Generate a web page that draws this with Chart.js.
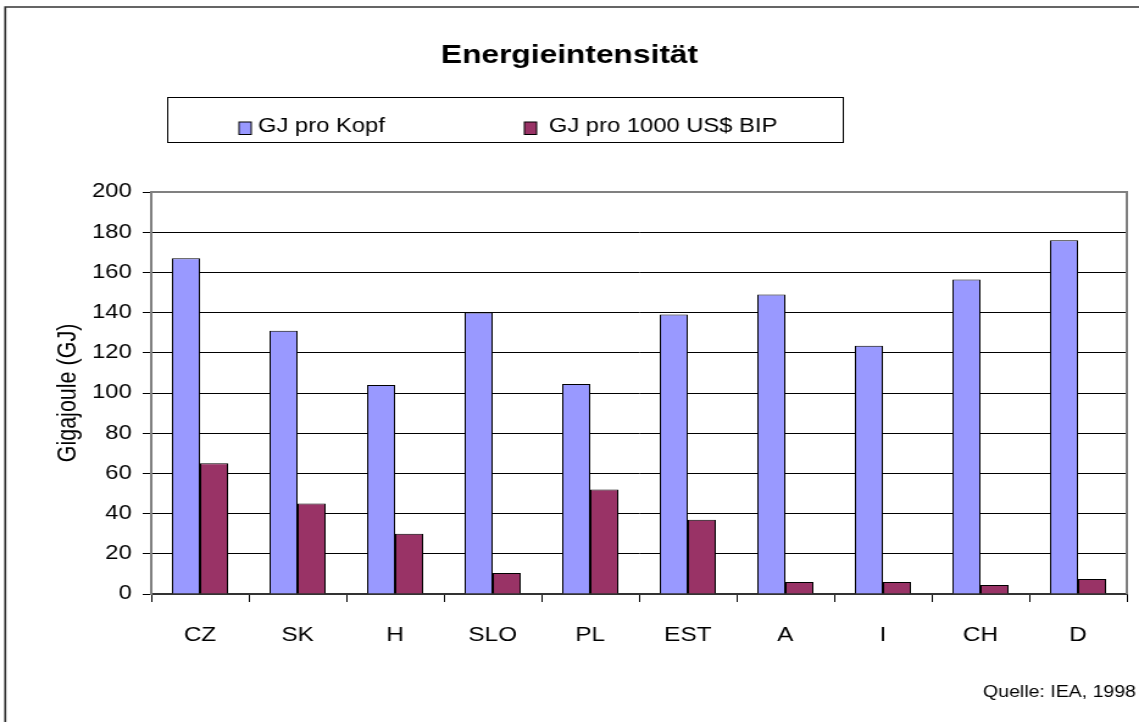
<!DOCTYPE html>
<html>
<head>
<meta charset="utf-8">
<script src="https://cdn.jsdelivr.net/npm/chart.js@4"></script>
<style>
  html, body { margin: 0; padding: 0; background: #fff; overflow: hidden; }
  /* the original picture is stretched sideways, so the chart is drawn narrow and widened */
  #wrap { width: 934px; height: 722px; transform: scaleX(1.2195); transform-origin: 0 0; }
</style>
</head>
<body>
<div id="wrap"><canvas id="chart" width="934" height="722"></canvas></div>
<script>
const countries = ['CZ', 'SK', 'H', 'SLO', 'PL', 'EST', 'A', 'I', 'CH', 'D'];
const perHead = [167, 131, 104, 140, 104.5, 139, 149, 123.5, 156.5, 176];
const perGdp = [65, 45, 30, 10.5, 52, 37, 6, 6, 4.5, 7.5];
const seriesNames = ['GJ pro Kopf', 'GJ pro 1000 US$ BIP'];
const yTicks = [0, 20, 40, 60, 80, 100, 120, 140, 160, 180, 200];

const FONT = '"Liberation Sans", Arial, sans-serif';

const extras = {
    id: 'extras',
    afterDraw(chart) {
        const ctx = chart.ctx
        const a = chart.chartArea
        ctx.save()

        // grey frame on top and right of the plot
        ctx.strokeStyle = '#808080'
        ctx.lineWidth = 2
        ctx.beginPath()
        ctx.moveTo(a.left, a.top)
        ctx.lineTo(a.right, a.top)
        ctx.lineTo(a.right, a.bottom)
        ctx.stroke()

        // outer frame
        ctx.strokeStyle = '#333'
        ctx.lineWidth = 1.7
        ctx.beginPath()
        ctx.moveTo(4.3, 722)
        ctx.lineTo(4.3, 7)
        ctx.lineTo(934, 7)
        ctx.stroke()

        // title
        ctx.fillStyle = '#000'
        ctx.font = 'bold 26px ' + FONT
        ctx.textAlign = 'center'
        ctx.textBaseline = 'alphabetic'
        ctx.fillText('Energieintensität', 467, 63)

        // legend box
        ctx.strokeStyle = '#000'
        ctx.lineWidth = 1
        ctx.strokeRect(137.5, 97.5, 554, 45)
        const items = [[196, 211.5], [430, 450]]
        ctx.font = '19.5px ' + FONT
        ctx.textAlign = 'left'
        chart.data.datasets.forEach((ds, i) => {
            const [bx, tx] = items[i]
            ctx.fillStyle = ds.backgroundColor
            ctx.fillRect(bx, 122, 10, 12.5)
            ctx.strokeRect(bx, 122, 10, 12.5)
            ctx.fillStyle = '#000'
            ctx.fillText(ds.label, tx, 131.5)
        })

        // source
        ctx.font = '16px ' + FONT
        ctx.textAlign = 'right'
        ctx.fillText('Quelle: IEA, 1998', 931.5, 696.5)
        ctx.restore()
    }
}

new Chart(document.getElementById('chart'), {
    type: 'bar',
    data: {
        labels: countries,
        datasets: [
            {label: seriesNames[0], data: perHead, backgroundColor: '#9999FF', borderColor: '#000', borderWidth: 1},
            {label: seriesNames[1], data: perGdp, backgroundColor: '#993366', borderColor: '#000', borderWidth: 1},
        ]
    },
    options: {
        responsive: false,
        animation: false,
        devicePixelRatio: 1,
        layout: {padding: {left: 0, top: 192, right: 10, bottom: 0}},
        datasets: {bar: {categoryPercentage: 0.575, barPercentage: 1}},
        plugins: {legend: {display: false}, title: {display: false}, tooltip: {enabled: false}},
        scales: {
            x: {
                grid: {display: true, drawOnChartArea: false, drawTicks: true, tickLength: 8, color: '#000', offset: true},
                border: {display: true, color: '#333', width: 2},
                ticks: {color: '#000', padding: 21, font: {family: FONT, size: 20}},
                afterFit: s => { s.height = 128 }
            },
            y: {
                min: 0,
                max: 200,
                afterBuildTicks: s => { s.ticks = yTicks.map(v => ({value: v})) },
                grid: {color: '#000', lineWidth: 1, tickLength: 7},
                border: {color: '#808080', width: 2},
                ticks: {color: '#000', padding: 9, font: {family: FONT, size: 19.5}},
                title: {display: true, text: 'Gigajoule (GJ)', color: '#000', font: {family: FONT, size: 21.5}, padding: {top: 43, bottom: 0}},
                afterFit: s => { s.width = 124 }
            }
        }
    },
    plugins: [extras]
});
</script>
</body>
</html>
